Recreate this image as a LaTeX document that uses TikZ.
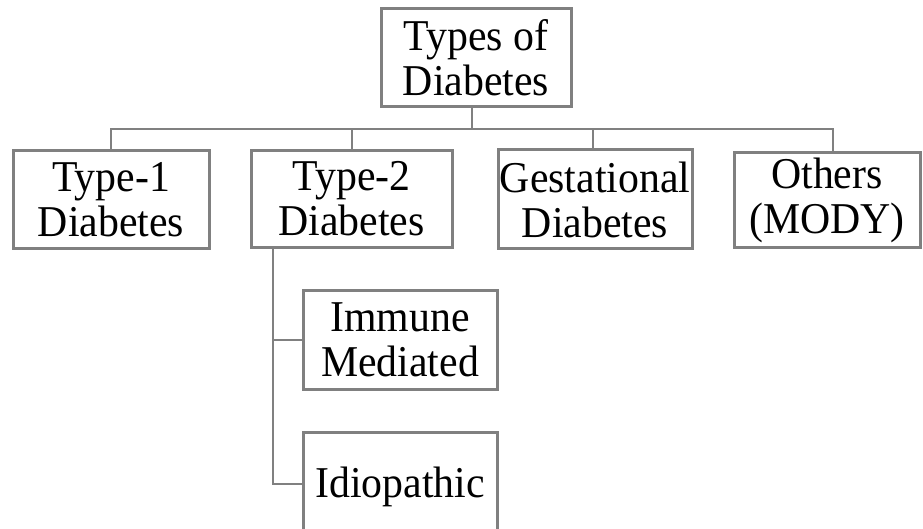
\documentclass[tikz,border=0pt]{standalone}
\usepackage{fontspec}
\setmainfont[FakeStretch=0.95]{Liberation Serif}
\definecolor{linegray}{RGB}{128,128,128}
\begin{document}
\begin{tikzpicture}[x=1pt,y=-1pt,
  box/.style={draw=linegray, line width=3pt, fill=white, inner sep=0pt, align=center,
    font=\fontsize{44}{45}\selectfont},
  conn/.style={draw=linegray, line width=2pt}]
\useasboundingbox (0,0) rectangle (923,529);
\clip (0,0) rectangle (923,529);
\node[box, minimum width=190pt, minimum height=98pt] (top) at (476,58) {Types of\\Diabetes};
\node[box, minimum width=196pt, minimum height=98pt] (t1) at (111,200) {Type-1\\Diabetes};
\node[box, minimum width=201pt, minimum height=97pt] (t2) at (351.5,199) {Type-2\\Diabetes};
\node[box, minimum width=194pt, minimum height=99pt] (ges) at (595,199.5) {Gestational\\Diabetes};
\node[box, minimum width=186pt, minimum height=95pt] (oth) at (827,200) {Others\\(MODY)};
\node[box, minimum width=194pt, minimum height=99pt] (imm) at (400,339.5) {Immune\\Mediated};
\node[box, minimum width=194pt, minimum height=100pt, text depth=0pt] (idi) at (400,482) {Idiopathic};
\coordinate (bar) at (0,129);
\coordinate (trunk) at (273,0);
\draw[conn] ([xshift=-4pt]top.south) -- ([xshift=-4pt]top.south |- bar);
\draw[conn] (t1.north) -- (t1.north |- bar) -- ([xshift=6pt]oth.north |- bar) -- ([xshift=6pt]oth.north);
\draw[conn] (t2.north) -- (t2.north |- bar);
\draw[conn] ([xshift=-2pt]ges.north) -- ([xshift=-2pt]ges.north |- bar);
\draw[conn] (t2.south -| trunk) |- ([yshift=-2pt]idi.west);
\draw[conn] (imm.west -| trunk) -- (imm.west);
\end{tikzpicture}
\end{document}
